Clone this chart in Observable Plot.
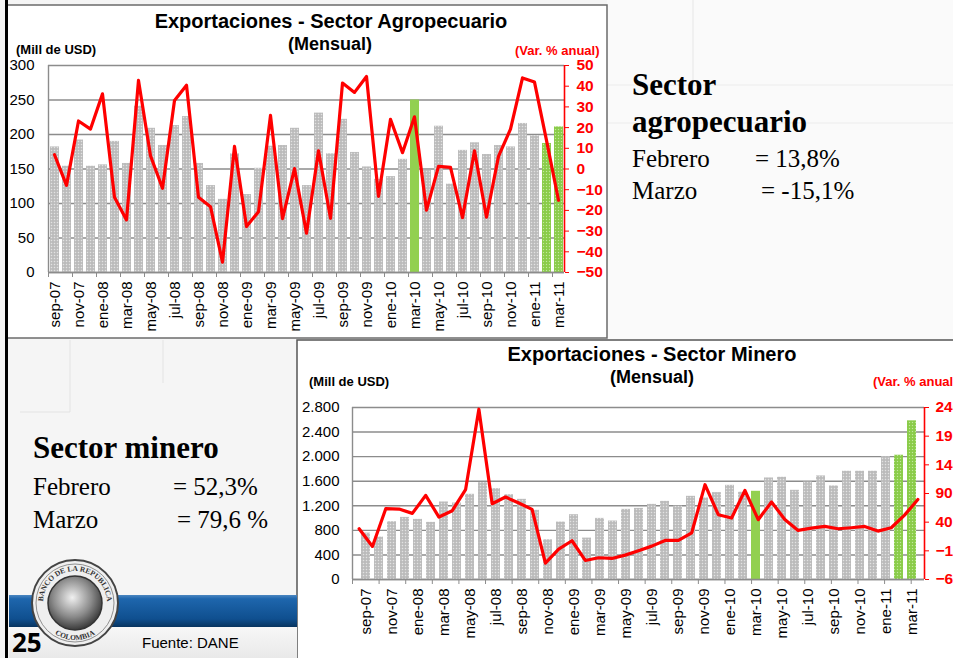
<!DOCTYPE html>
<html>
<head>
<meta charset="utf-8">
<script src="https://cdn.jsdelivr.net/npm/d3@7"></script>
<script src="https://cdn.jsdelivr.net/npm/@observablehq/plot@0.6"></script>
<style>
html,body{margin:0;padding:0;}
body{width:953px;height:658px;overflow:hidden;position:relative;background:#f4f4f4;font-family:"Liberation Sans",Arial,sans-serif;}
#bg{position:absolute;left:0;top:0;}
.chart{position:absolute;}
</style>
</head>
<body>
<svg id="bg" width="953" height="658" xmlns="http://www.w3.org/2000/svg">
  <defs>
    <linearGradient id="band" x1="0" y1="0" x2="0" y2="1">
      <stop offset="0" stop-color="#4b86c0"/>
      <stop offset="0.12" stop-color="#1e66ad"/>
      <stop offset="0.75" stop-color="#0f4f8f"/>
      <stop offset="1" stop-color="#08345f"/>
    </linearGradient>
    <radialGradient id="logoGrad" cx="0.45" cy="0.4" r="0.6">
      <stop offset="0" stop-color="#f0f0f0"/>
      <stop offset="0.6" stop-color="#8a8a8a"/>
      <stop offset="1" stop-color="#3a3a3a"/>
    </radialGradient>
    <linearGradient id="foot" x1="0" y1="0" x2="0" y2="1">
      <stop offset="0" stop-color="#f7f7f7"/>
      <stop offset="1" stop-color="#e9e9e9"/>
    </linearGradient>
  </defs>
  <rect x="0" y="0" width="953" height="658" fill="#f5f5f5"/>
  <rect x="607" y="0" width="346" height="340" fill="#fafafa"/>
  <line x1="693" y1="0" x2="693" y2="85" stroke="#e6e6e6"/>
  <line x1="607" y1="85" x2="953" y2="85" stroke="#ececec"/>
  <line x1="607" y1="123" x2="953" y2="123" stroke="#ececec"/>
  <line x1="70" y1="340" x2="70" y2="412" stroke="#e3e3e3"/>
  <line x1="20" y1="412" x2="70" y2="412" stroke="#e3e3e3"/>
  <line x1="163" y1="340" x2="163" y2="383" stroke="#e3e3e3"/>
  <rect x="7" y="5" width="600" height="333" fill="#ffffff" stroke="#6b6b6b" stroke-width="1.5"/>
  <rect x="297" y="340" width="670" height="330" fill="#ffffff" stroke="#555555" stroke-width="1.5"/>
  <rect x="9" y="627" width="288" height="31" fill="url(#foot)"/>
  <rect x="9" y="595" width="288" height="32" fill="url(#band)"/>
  <rect x="5" y="0" width="3" height="658" fill="#000"/>

  <text x="331" y="28" text-anchor="middle" font-weight="bold" font-size="20">Exportaciones - Sector Agropecuario</text>
  <text x="330" y="50" text-anchor="middle" font-weight="bold" font-size="18">(Mensual)</text>
  <text x="16" y="54" font-weight="bold" font-size="13">(Mill de USD)</text>
  <text x="515" y="55" font-weight="bold" font-size="13" fill="#ff0000">(Var. % anual)</text>

  <text x="652" y="361" text-anchor="middle" font-weight="bold" font-size="20">Exportaciones - Sector Minero</text>
  <text x="652" y="383" text-anchor="middle" font-weight="bold" font-size="18">(Mensual)</text>
  <text x="309" y="386" font-weight="bold" font-size="13">(Mill de USD)</text>
  <text x="873" y="386" font-weight="bold" font-size="13" fill="#ff0000">(Var. % anual)</text>

  <g font-family="'Liberation Serif','Times New Roman',serif" fill="#000">
    <text x="632" y="95" font-weight="bold" font-size="31">Sector</text>
    <text x="632" y="132" font-weight="bold" font-size="31">agropecuario</text>
    <text x="632" y="167" font-size="25">Febrero</text>
    <text x="755" y="167" font-size="25">= 13,8%</text>
    <text x="632" y="199" font-size="25">Marzo</text>
    <text x="761" y="199" font-size="25">= -15,1%</text>

    <text x="33" y="458" font-weight="bold" font-size="31">Sector minero</text>
    <text x="33" y="495" font-size="25">Febrero</text>
    <text x="173" y="495" font-size="25">= 52,3%</text>
    <text x="33" y="528" font-size="25">Marzo</text>
    <text x="177" y="528" font-size="25">= 79,6 %</text>
  </g>

  <g transform="translate(75,603)">
    <circle r="43" fill="#efefef" stroke="#444" stroke-width="2"/>
    <circle r="39" fill="none" stroke="#777" stroke-width="0.8"/>
    <circle r="27" fill="url(#logoGrad)" stroke="#333" stroke-width="1.5"/>
    <path id="arcTop" d="M -32 0 A 32 32 0 0 1 32 0" fill="none"/>
    <path id="arcBot" d="M -37 0 A 37 37 0 0 0 37 0" fill="none"/>
    <text font-size="7.5" font-family="'Liberation Serif',serif" font-weight="bold" fill="#333"><textPath href="#arcTop" startOffset="50%" text-anchor="middle">BANCO DE LA REPUBLICA</textPath></text>
    <text font-size="7.5" font-family="'Liberation Serif',serif" font-weight="bold" fill="#333"><textPath href="#arcBot" startOffset="50%" text-anchor="middle">COLOMBIA</textPath></text>
  </g>
  <text x="12" y="652" font-family="'Open Sans',sans-serif" font-weight="bold" font-size="26">25</text>
  <text x="142" y="648" font-size="15">Fuente: DANE</text>
</svg>

<script>
// ---------------- DATA ----------------
const months = ["sep-07","oct-07","nov-07","dic-07","ene-08","feb-08","mar-08","abr-08","may-08","jun-08","jul-08","ago-08",
  "sep-08","oct-08","nov-08","dic-08","ene-09","feb-09","mar-09","abr-09","may-09","jun-09","jul-09","ago-09",
  "sep-09","oct-09","nov-09","dic-09","ene-10","feb-10","mar-10","abr-10","may-10","jun-10","jul-10","ago-10",
  "sep-10","oct-10","nov-10","dic-10","ene-11","feb-11","mar-11"];

// Sector agropecuario: exportaciones (Mill USD) y variación % anual
const agroExports = [182,154,192,154,156,190,158,241,209,184,213,226,158,126,106,172,113,151,183,184,209,126,231,172,
  222,174,153,135,139,164,250,148,212,128,177,188,171,184,182,216,198,187,211];
const agroGrowth = [6.9,-7.9,23.2,19.3,36.3,-13.7,-24.6,42.8,6.4,-9.3,33.1,40.5,-13.7,-18.2,-45,10.9,-27.8,-20.6,25.9,-24,0.2,-31,8.8,-23.8,
  41.5,37,44.7,-13.2,24,7.9,25.2,-19.9,1.3,0.8,-23.5,8.8,-23.3,6.1,19.3,44,42,13.8,-15.1];

// Sector minero: exportaciones (Mill USD) y variación % anual
const mineExports = [756,690,941,1011,979,930,1262,1245,1387,1577,1479,1381,1305,1126,647,935,1055,674,995,952,1142,1158,1223,1272,
  1196,1354,1327,1414,1533,1420,1436,1653,1664,1452,1588,1686,1523,1762,1762,1762,2001,2023,2583];
const mineGrowth = [28.5,-2.3,63.5,62.9,55.3,86.8,48.9,60,96.7,237,72.2,83.9,73.4,62.3,-31.5,-7,7.6,-26.8,-22.1,-23.3,-17.5,-9.9,-1.8,8.1,
  8.1,21.5,105.4,53,47.2,95.5,44.3,75.1,44.8,25.6,29.7,32.6,28.5,30.3,32.6,24.4,30.3,52.3,79.6];

const highlightMonths = ["mar-10","feb-11","mar-11"];
const solidMonths = ["mar-10"];

const agroLeftTicks = [0,50,100,150,200,250,300];
const agroRightTicks = [-50,-40,-30,-20,-10,0,10,20,30,40,50];
const mineLeftTicks = [0,400,800,1200,1600,2000,2400,2800];
const mineRightTicks = [-60,-10,40,90,140,190,240];
const labelMonths = months.filter((d,i)=>i%2===0);

// ---------------- CHARTS ----------------
function patterns(id){
  return `<pattern id="${id}-grey" width="3" height="3" patternUnits="userSpaceOnUse">
      <rect width="3" height="3" fill="#c2c2c2"/>
      <rect x="0" y="0" width="1" height="1" fill="#e2e2e2"/>
      <rect x="1.5" y="1.5" width="1" height="1" fill="#a9a9a9"/>
    </pattern>
    <pattern id="${id}-green" width="3" height="3" patternUnits="userSpaceOnUse">
      <rect width="3" height="3" fill="#8fcf4f"/>
      <rect x="0" y="0" width="1" height="1" fill="#c2e6a0"/>
      <rect x="1.5" y="1.5" width="1" height="1" fill="#7cbf3c"/>
    </pattern>`;
}

function dualChart(cfg){
  const n = months.length;
  const rows = months.map((m,i)=>({month:m, idx:i, value:cfg.bars[i], growth:cfg.growth[i]}));
  const common = {
    width:cfg.width, height:cfg.height,
    marginLeft:cfg.ml, marginRight:cfg.mr, marginTop:cfg.mt, marginBottom:cfg.mb,
    style:{background:"transparent", fontFamily:"'Liberation Sans', Arial, sans-serif", overflow:"visible"}
  };
  const grey = "#8c8c8c";
  const barsSvg = Plot.plot({
    ...common,
    x:{type:"band", domain:months, paddingInner:cfg.pad, paddingOuter:cfg.pad/2, align:0.5},
    y:{domain:cfg.yDomain},
    marks:[
      Plot.gridY(cfg.yTicks, {stroke:grey, strokeOpacity:1, strokeWidth:1.4}),
      Plot.barY(rows.filter(d=>!highlightMonths.includes(d.month)), {x:"month", y:"value", fill:`url(#${cfg.id}-grey)`}),
      Plot.barY(rows.filter(d=>solidMonths.includes(d.month)), {x:"month", y:"value", fill:"#92d050"}),
      Plot.barY(rows.filter(d=>highlightMonths.includes(d.month) && !solidMonths.includes(d.month)), {x:"month", y:"value", fill:`url(#${cfg.id}-green)`}),
      Plot.axisY(cfg.yTicks, {tickSize:0, tickPadding:cfg.lpad, fontSize:15, tickFormat:cfg.yFormat, label:null, color:"#000"}),
      Plot.axisX(labelMonths, {tickSize:0, tickPadding:9, tickRotate:-90, fontSize:15, label:null, color:"#000"})
    ]
  });
  d3.select(barsSvg).insert("defs", ":first-child").html(patterns(cfg.id));

  const lineSvg = Plot.plot({
    ...common,
    x:{domain:[0,n]},
    y:{domain:cfg.rDomain},
    marks:[
      Plot.ruleX([0], {stroke:grey, strokeWidth:1.4}),
      Plot.ruleY([cfg.rDomain[0]], {stroke:grey, strokeWidth:1.4}),
      Plot.axisX(d3.range(0, n+1, 2), {tickSize:5, tickFormat:()=>"", color:grey, label:null}),
      Plot.ruleX([n], {stroke:"#ff0000", strokeWidth:1.6}),
      Plot.axisY(cfg.rTicks, {anchor:"right", tickSize:4, tickPadding:cfg.rpad, color:"#ff0000", fontSize:15.5, fontWeight:"bold", label:null}),
      Plot.lineY(rows, {x:d=>d.idx+0.5, y:"growth", stroke:"#ff0000", strokeWidth:3.2})
    ]
  });
  d3.select(lineSvg).selectAll('g[aria-label="y-axis tick label"] text').attr("font-weight","bold");

  for (const svg of [barsSvg, lineSvg]) {
    svg.classList.add("chart");
    svg.style.left = cfg.left + "px";
    svg.style.top = cfg.top + "px";
    svg.style.position = "absolute";
    document.body.appendChild(svg);
  }
}

const fmtThousands = d => d3.format(",")(d).replace(/,/g, ".");

dualChart({
  id:"agro", left:0, top:0, width:607, height:338,
  ml:48, mr:43, mt:65, mb:66, pad:0.28, lpad:14, rpad:8,
  bars:agroExports, growth:agroGrowth,
  yDomain:[0,300], yTicks:agroLeftTicks, yFormat:d=>String(d),
  rDomain:[-50,50], rTicks:agroRightTicks
});

dualChart({
  id:"mine", left:297, top:341, width:700, height:317,
  ml:55, mr:73, mt:66, mb:79, pad:0.32, lpad:13, rpad:7,
  bars:mineExports, growth:mineGrowth,
  yDomain:[0,2800], yTicks:mineLeftTicks, yFormat:fmtThousands,
  rDomain:[-60,240], rTicks:mineRightTicks
});
</script>
</body>
</html>
